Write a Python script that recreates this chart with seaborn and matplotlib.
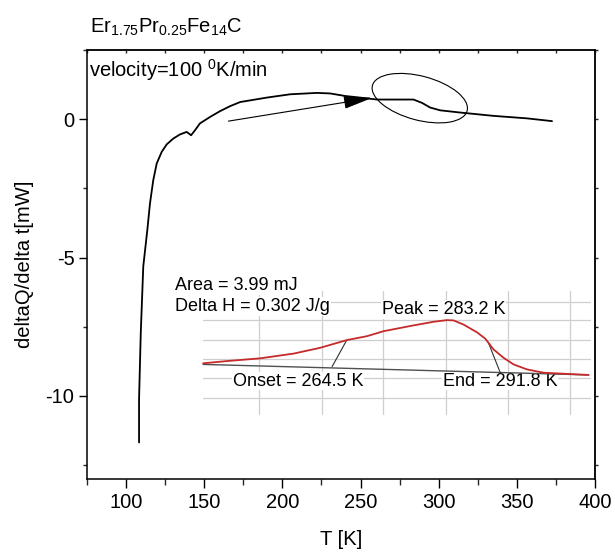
import matplotlib
matplotlib.use("Agg")
import matplotlib.pyplot as plt
import seaborn as sns
import numpy as np
import pandas as pd
from matplotlib.patches import Ellipse
from matplotlib import transforms
from matplotlib.ticker import MultipleLocator, FixedLocator

# ---------------- data ----------------
temperature = [108.3, 108.3, 109.4, 111.0, 113.6, 115.3, 117.4, 119.6, 122.8, 126.0,
               130.2, 134.5, 138.8, 141.6, 144.1, 147.3, 153.7, 160.1, 166.5, 173.0,
               179.4, 190.0, 205.0, 222.1, 230.6, 240.0, 249.8, 260.5, 271.1, 283.9,
               289.3, 294.6, 301.0, 313.8, 335.1, 356.5, 372.5]
heat_flow = [-11.68, -10.12, -7.72, -5.32, -4.00, -3.04, -2.20, -1.60, -1.18, -0.91,
             -0.70, -0.55, -0.46, -0.58, -0.40, -0.15, 0.08, 0.29, 0.47, 0.62,
             0.68, 0.78, 0.90, 0.95, 0.93, 0.84, 0.78, 0.71, 0.71, 0.71,
             0.59, 0.42, 0.32, 0.24, 0.12, 0.03, -0.07]

# inset (pasted DSC analysis) drawn in main-axis units
inset_x = [149.3, 164.4, 185.8, 207.1, 224.2, 241.3, 254.1, 264.7, 283.9, 296.7,
           305.3, 309.5, 315.9, 324.5, 329.8, 335.1, 341.5, 347.9, 356.5, 367.1,
           377.8, 395.9]
inset_y = [-8.82, -8.74, -8.64, -8.47, -8.26, -7.98, -7.84, -7.66, -7.45, -7.32,
           -7.26, -7.27, -7.42, -7.70, -7.93, -8.32, -8.62, -8.86, -9.04, -9.16,
           -9.19, -9.24]
baseline_x = [149.3, 395.9]
baseline_y = [-8.86, -9.24]
onset_x = [231.8, 240.8]
onset_y = [-8.94, -8.02]
end_x = [339.4, 331.7]
end_y = [-9.16, -8.06]
inset_grid_v = [185.1, 225.4, 264.5, 304.8, 344.5, 384.2]
inset_grid_h = [-6.59, -7.27, -7.99, -8.68, -9.36, -10.08]
inset_xlim = [149.3, 397.0]
inset_ylim = [-10.64, -6.22]

x_ticks = [100, 150, 200, 250, 300, 350, 400]
y_ticks = [-10, -5, 0]

# ---------------- style ----------------
sns.set_theme(style="ticks")
plt.rcParams["font.family"] = ["Liberation Sans", "DejaVu Sans"]
plt.rcParams["mathtext.fontset"] = "custom"
plt.rcParams["mathtext.rm"] = "Liberation Sans"
plt.rcParams["mathtext.it"] = "Liberation Sans:italic"
plt.rcParams["axes.linewidth"] = 1.1

fig = plt.figure(figsize=(6.15, 5.54), dpi=100)
ax = fig.add_axes([87 / 615, 1 - 479 / 554, 508 / 615, 429 / 554])

df = pd.DataFrame({"T": temperature, "Q": heat_flow})
sns.lineplot(data=df, x="T", y="Q", sort=False, estimator=None,
             color="black", lw=1.3, ax=ax, zorder=6)

# inset grid
for gx in inset_grid_v:
    ax.plot([gx, gx], inset_ylim, color="#cfcfcf", lw=0.9, zorder=1)
for gy in inset_grid_h:
    ax.plot(inset_xlim, [gy, gy], color="#cfcfcf", lw=0.9, zorder=1)

dfi = pd.DataFrame({"T": inset_x, "S": inset_y})
sns.lineplot(data=dfi, x="T", y="S", sort=False, estimator=None,
             color="#c62a2a", lw=1.3, ax=ax, zorder=4)
ax.plot(baseline_x, baseline_y, color="#505050", lw=1.0, zorder=3)
ax.plot(onset_x, onset_y, color="#303030", lw=0.8, zorder=3)
ax.plot(end_x, end_y, color="#303030", lw=0.8, zorder=3)

tkw = dict(fontsize=13, color="black", zorder=2,
           bbox=dict(facecolor="white", edgecolor="none", pad=0.5))
ax.text(131.3, -6.01, "Area = 3.99 mJ", ha="left", va="center", **tkw)
ax.text(131.3, -6.77, "Delta H = 0.302 J/g", ha="left", va="center", **tkw)
ax.text(303.1, -6.88, "Peak = 283.2 K", ha="center", va="center", **tkw)
ax.text(168.3, -9.46, "Onset = 264.5 K", ha="left", va="center", **tkw)
ax.text(302.7, -9.46, "End = 291.8 K", ha="left", va="center", **tkw)

# arrow and ellipse annotation
ax.annotate("", xy=(257.5, 0.77), xytext=(165.5, -0.07),
            arrowprops=dict(arrowstyle="-|>,head_length=1.8,head_width=0.4",
                            mutation_scale=10, color="black", lw=0.8,
                            shrinkA=0, shrinkB=0), zorder=7)

ax.set_xlim(75, 400)
ax.set_ylim(-13, 2.5)

trans = fig.dpi_scale_trans + transforms.ScaledTranslation(287.9, 0.76, ax.transData)
ell = Ellipse((0, 0), 0.98, 0.44, angle=-15, fill=False, lw=0.8,
              edgecolor="black", transform=trans, zorder=7)
ax.add_patch(ell)

# ticks
ax.xaxis.set_major_locator(FixedLocator(x_ticks))
ax.xaxis.set_minor_locator(MultipleLocator(25))
ax.yaxis.set_major_locator(FixedLocator(y_ticks))
ax.yaxis.set_minor_locator(MultipleLocator(2.5))
ax.set_xticklabels([str(v) for v in x_ticks])
ax.set_yticklabels([str(v) for v in y_ticks])
ax.tick_params(axis="x", which="major", direction="out", length=6.5, width=1.0,
               labelsize=14.5, pad=3.5, colors="black")
ax.tick_params(axis="x", which="minor", direction="out", length=4, width=1.0)
ax.tick_params(axis="y", which="major", direction="out", length=5.5, width=1.0,
               labelsize=14.5, pad=3.5, colors="black")
ax.tick_params(axis="y", which="minor", direction="out", length=3, width=1.0)

sec_x = ax.secondary_xaxis("top")
sec_x.xaxis.set_major_locator(MultipleLocator(25))
sec_x.tick_params(direction="in", length=2, width=1.0, labeltop=False)
sec_y = ax.secondary_yaxis("right")
sec_y.yaxis.set_major_locator(MultipleLocator(2.5))
sec_y.tick_params(direction="out", length=2, width=1.0, labelright=False)

for sp in ax.spines.values():
    sp.set_color("black")
    sp.set_linewidth(1.1)
sec_x.spines["top"].set_linewidth(1.1)
sec_y.spines["right"].set_linewidth(1.1)

ax.set_xlabel("T [K]", fontsize=14.5, color="black")
ax.set_ylabel("deltaQ/delta t[mW]", fontsize=14.5, color="black")
ax.xaxis.set_label_coords(0.5, -0.118)
ax.yaxis.set_label_coords(-0.105, 0.5)

fig.text(90 / 615, 1 - 33 / 554,
         r"Er$_{\mathregular{1.75}}$Pr$_{\mathregular{0.25}}$Fe$_{\mathregular{14}}$C",
         fontsize=14.5, ha="left", va="baseline", color="black")
fig.text(89 / 615, 1 - 77 / 554, r"velocity=100 $^{\mathregular{0}}$K/min",
         fontsize=14.5, ha="left", va="baseline", color="black")

fig.savefig("out.png", dpi=100)
